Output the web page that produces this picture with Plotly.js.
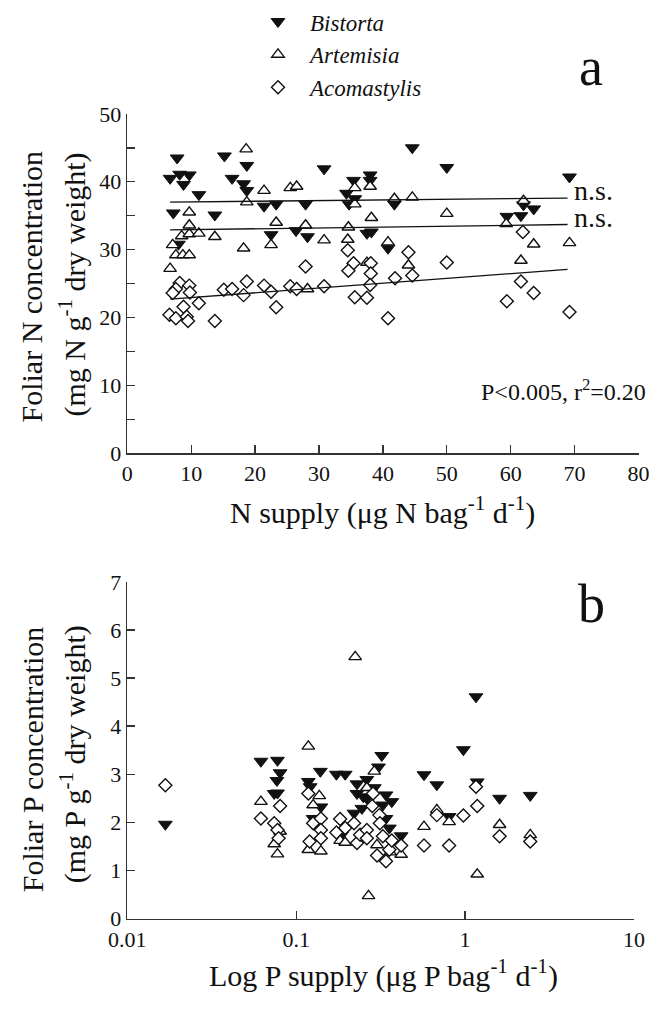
<!DOCTYPE html>
<html><head><meta charset="utf-8">
<script src="https://cdn.plot.ly/plotly-3.0.1.min.js"></script>
<style>body{margin:0;background:#fff}#chart{width:667px;height:1011px}</style>
</head><body><div id="chart"></div>
<script>
// ---------- Panel a: N supply vs foliar N ----------
const bistortaNSupply = [7.8,6.7,8.2,9.7,8.8,11.2,7.2,13.7,8.0,15.2,16.4,18.2,18.7,18.7,21.4,23.3,27.9,22.5,26.4,28.2,30.8,44.6,50.0,35.4,38.0,38.0,34.3,35.6,34.7,41.8,37.5,38.2,40.8,69.2,62.0,63.6,59.4,61.6];
const bistortaNConc   = [43.5,40.5,41.1,41.0,39.6,38.1,35.4,35.1,30.8,43.8,40.5,39.7,42.4,38.7,36.4,36.7,36.7,32.2,32.8,31.9,41.9,45.0,42.1,40.2,41.0,40.2,38.3,37.5,36.7,36.7,32.4,32.6,30.2,40.7,36.6,36.0,34.9,35.0];
const artemisiaNSupply = [18.6,18.7,21.4,25.5,26.5,9.7,9.7,8.5,9.7,11.2,13.7,7.1,7.6,8.7,9.7,6.7,18.2,23.3,22.5,27.9,28.2,35.6,38.0,35.6,41.8,44.6,50.0,34.6,38.2,30.8,34.5,40.8,37.5,44.0,62.0,59.3,63.6,69.2,61.6];
const artemisiaNConc   = [44.8,37.0,38.7,39.1,39.3,35.5,33.6,32.0,32.3,32.4,31.9,30.7,29.2,29.2,29.2,27.2,30.2,34.0,30.7,33.6,24.2,39.1,39.3,36.7,37.5,37.7,35.3,33.3,34.7,31.4,31.5,31.1,28.1,27.7,37.2,33.8,30.8,31.0,28.4];
const acomastylisNSupply = [8.2,9.7,7.6,7.1,9.8,8.8,11.2,6.6,7.6,9.3,9.5,13.7,15.1,16.4,18.7,18.2,21.4,22.5,23.3,25.5,26.5,27.9,34.5,44.0,35.4,34.6,38.1,38.1,50.0,41.9,44.6,38.0,30.8,35.6,37.5,40.8,61.9,61.6,63.6,59.4,69.2];
const acomastylisNConc   = [25.1,24.7,24.2,23.6,23.7,21.6,22.1,20.4,19.9,20.1,19.5,19.5,24.1,24.2,25.3,23.3,24.7,23.8,21.5,24.6,24.2,27.5,29.9,29.6,28.0,26.9,28.0,26.5,28.1,25.8,26.2,24.8,24.6,23.0,22.9,19.9,32.6,25.3,23.6,22.4,20.8];
// regression lines
const fitNSupply = [6.7, 68.9];
const fitBistorta = [37.0, 37.6];
const fitArtemisia = [32.9, 33.7];
const fitAcomastylis = [22.7, 27.1];

// ---------- Panel b: P supply vs foliar P ----------
const bistortaPSupply = [0.0168,0.0618,0.0775,0.0803,0.0769,0.0741,0.0775,0.118,0.121,0.139,0.126,0.140,0.173,0.195,0.229,0.262,0.229,0.250,0.290,0.307,0.321,0.262,0.245,0.220,0.340,0.368,0.326,0.340,0.356,0.186,0.418,0.571,0.680,0.804,0.977,1.16,1.18,1.60,2.43];
const bistortaPConc   = [1.96,3.27,3.29,3.03,2.87,2.60,2.61,2.85,2.74,3.06,2.08,2.32,3.00,3.00,2.80,2.89,2.60,2.53,2.72,3.15,3.39,2.50,2.29,2.19,2.57,2.43,2.36,2.08,1.88,1.74,1.72,2.99,2.78,2.12,3.51,4.61,2.84,2.50,2.56];
const artemisiaPSupply = [0.118,0.0618,0.0741,0.0775,0.0803,0.118,0.126,0.137,0.2235,0.290,0.140,0.182,0.195,0.268,0.301,0.360,0.418,0.571,0.680,0.804,1.18,0.262,1.60,2.43];
const artemisiaPConc   = [3.58,2.43,1.55,1.34,1.81,1.43,2.36,2.55,5.44,3.06,1.40,1.62,1.58,0.47,1.53,1.38,1.33,1.91,2.26,2.01,0.92,2.72,1.95,1.74];
const acomastylisPSupply = [0.0168,0.0618,0.0741,0.0803,0.0775,0.0787,0.118,0.126,0.120,0.140,0.140,0.140,0.182,0.173,0.195,0.220,0.229,0.239,0.262,0.262,0.285,0.282,0.311,0.313,0.326,0.301,0.340,0.356,0.368,0.418,0.571,0.680,0.804,0.977,1.18,1.16,1.60,2.43];
const acomastylisPConc   = [2.77,2.08,1.98,2.34,1.84,1.67,2.60,1.98,1.60,2.08,1.84,1.67,2.07,1.79,1.88,1.98,1.57,1.74,1.84,1.67,2.60,2.34,2.15,1.98,1.71,1.31,1.19,1.43,1.62,1.52,1.52,2.15,1.52,2.14,2.34,2.74,1.71,1.60];

const speciesNames = ['Bistorta','Artemisia','Acomastylis'];
const xTicksN = [0,10,20,30,40,50,60,70,80];
const yTicksN = [0,10,20,30,40,50];
const yTicksP = [0,1,2,3,4,5,6,7];

const W = 667, H = 1011;
const px = v => v / W;
const py = v => 1 - v / H;

const ink = '#111';
const serif = 'Liberation Serif';
const mk = {
  bistorta: {symbol:'triangle-down', size:12, color:ink, line:{color:ink, width:1}},
  artemisia: {symbol:'triangle-up', size:11, color:'#fff', line:{color:ink, width:1.4}},
  acomastylis: {symbol:'diamond', size:10, color:'#fff', line:{color:ink, width:1.4}}
};

const traces = [
  {x:bistortaNSupply, y:bistortaNConc, name:speciesNames[0], mode:'markers', type:'scatter', marker:mk.bistorta, xaxis:'x', yaxis:'y'},
  {x:artemisiaNSupply, y:artemisiaNConc, name:speciesNames[1], mode:'markers', type:'scatter', marker:mk.artemisia, xaxis:'x', yaxis:'y'},
  {x:acomastylisNSupply, y:acomastylisNConc, name:speciesNames[2], mode:'markers', type:'scatter', marker:mk.acomastylis, xaxis:'x', yaxis:'y'},
  {x:fitNSupply, y:fitBistorta, mode:'lines', line:{color:ink, width:1.3}, showlegend:false, xaxis:'x', yaxis:'y'},
  {x:fitNSupply, y:fitArtemisia, mode:'lines', line:{color:ink, width:1.3}, showlegend:false, xaxis:'x', yaxis:'y'},
  {x:fitNSupply, y:fitAcomastylis, mode:'lines', line:{color:ink, width:1.3}, showlegend:false, xaxis:'x', yaxis:'y'},
  {x:bistortaPSupply, y:bistortaPConc, mode:'markers', type:'scatter', marker:mk.bistorta, showlegend:false, xaxis:'x2', yaxis:'y2'},
  {x:artemisiaPSupply, y:artemisiaPConc, mode:'markers', type:'scatter', marker:mk.artemisia, showlegend:false, xaxis:'x2', yaxis:'y2'},
  {x:acomastylisPSupply, y:acomastylisPConc, mode:'markers', type:'scatter', marker:mk.acomastylis, showlegend:false, xaxis:'x2', yaxis:'y2'}
];

const tickFont = {family:serif, size:22, color:ink};
const titleFont = {family:serif, size:30, color:ink};
const axBase = {
  showline:true, linecolor:'#333', linewidth:1.6, showgrid:false, zeroline:false,
  ticks:'inside', ticklen:8, tickwidth:1.4, tickcolor:'#333', tickfont:tickFont, mirror:false
};
function note(text, x, y, font, extra) {
  return Object.assign({text:text, xref:'paper', yref:'paper', x:px(x), y:py(y),
    xanchor:'center', yanchor:'middle', showarrow:false, font:font}, extra || {});
}

const layout = {
  width:W, height:H,
  margin:{l:0, r:0, t:0, b:0},
  font:{family:serif, color:ink},
  paper_bgcolor:'#fff', plot_bgcolor:'#fff',
  showlegend:true,
  legend:{x:px(246), y:py(-9), xanchor:'left', yanchor:'top', bgcolor:'rgba(0,0,0,0)', itemwidth:54,
    font:{family:serif, size:23, style:'italic', color:ink}, tracegroupgap:0},
  xaxis:Object.assign({}, axBase, {domain:[px(127.3), px(638.5)], range:[0,80], tickvals:xTicksN, anchor:'y'}),
  yaxis:Object.assign({}, axBase, {domain:[py(448.3), py(105.8)], range:[0,50], tickvals:yTicksN, anchor:'x',
    minor:{dtick:5, ticks:'inside', ticklen:8, tickwidth:1.4, tickcolor:'#333'}}),
  xaxis2:Object.assign({}, axBase, {type:'log', domain:[px(127.3), px(634)], range:[-2,1], dtick:1, anchor:'y2'}),
  yaxis2:Object.assign({}, axBase, {domain:[py(917.7), py(578)], range:[0,7], tickvals:yTicksP, anchor:'x2'}),
  annotations:[
    note('a', 591, 59, {family:serif, size:54, color:ink}),
    note('b', 591, 600, {family:serif, size:54, color:ink}),
    {text:'n.s.', xref:'x', yref:'y', x:fitNSupply[1], y:fitBistorta[1], xanchor:'left', yanchor:'middle', xshift:4, yshift:8, showarrow:false, font:{family:serif, size:28, color:ink}},
    {text:'n.s.', xref:'x', yref:'y', x:fitNSupply[1], y:fitArtemisia[1], xanchor:'left', yanchor:'middle', xshift:4, yshift:7, showarrow:false, font:{family:serif, size:28, color:ink}},
    note('P<0.005, r<sup>2</sup>=0.20', 563, 384, {family:serif, size:24, color:ink}),
    note('N supply (μg N bag<sup>-1</sup> d<sup>-1</sup>)', 382, 506, titleFont),
    note('Log P supply (μg P bag<sup>-1</sup> d<sup>-1</sup>)', 384, 973, titleFont),
    note('Foliar N concentration', 32, 280, titleFont, {textangle:-90}),
    note('(mg N g<sup>-1</sup> dry weight)', 73, 278, titleFont, {textangle:-90}),
    note('Foliar P concentration', 32, 757, titleFont, {textangle:-90}),
    note('(mg P g<sup>-1</sup> dry weight)', 73, 752, titleFont, {textangle:-90})
  ]
};

Plotly.newPlot('chart', traces, layout, {staticPlot:true, displayModeBar:false});
</script>
</body></html>
